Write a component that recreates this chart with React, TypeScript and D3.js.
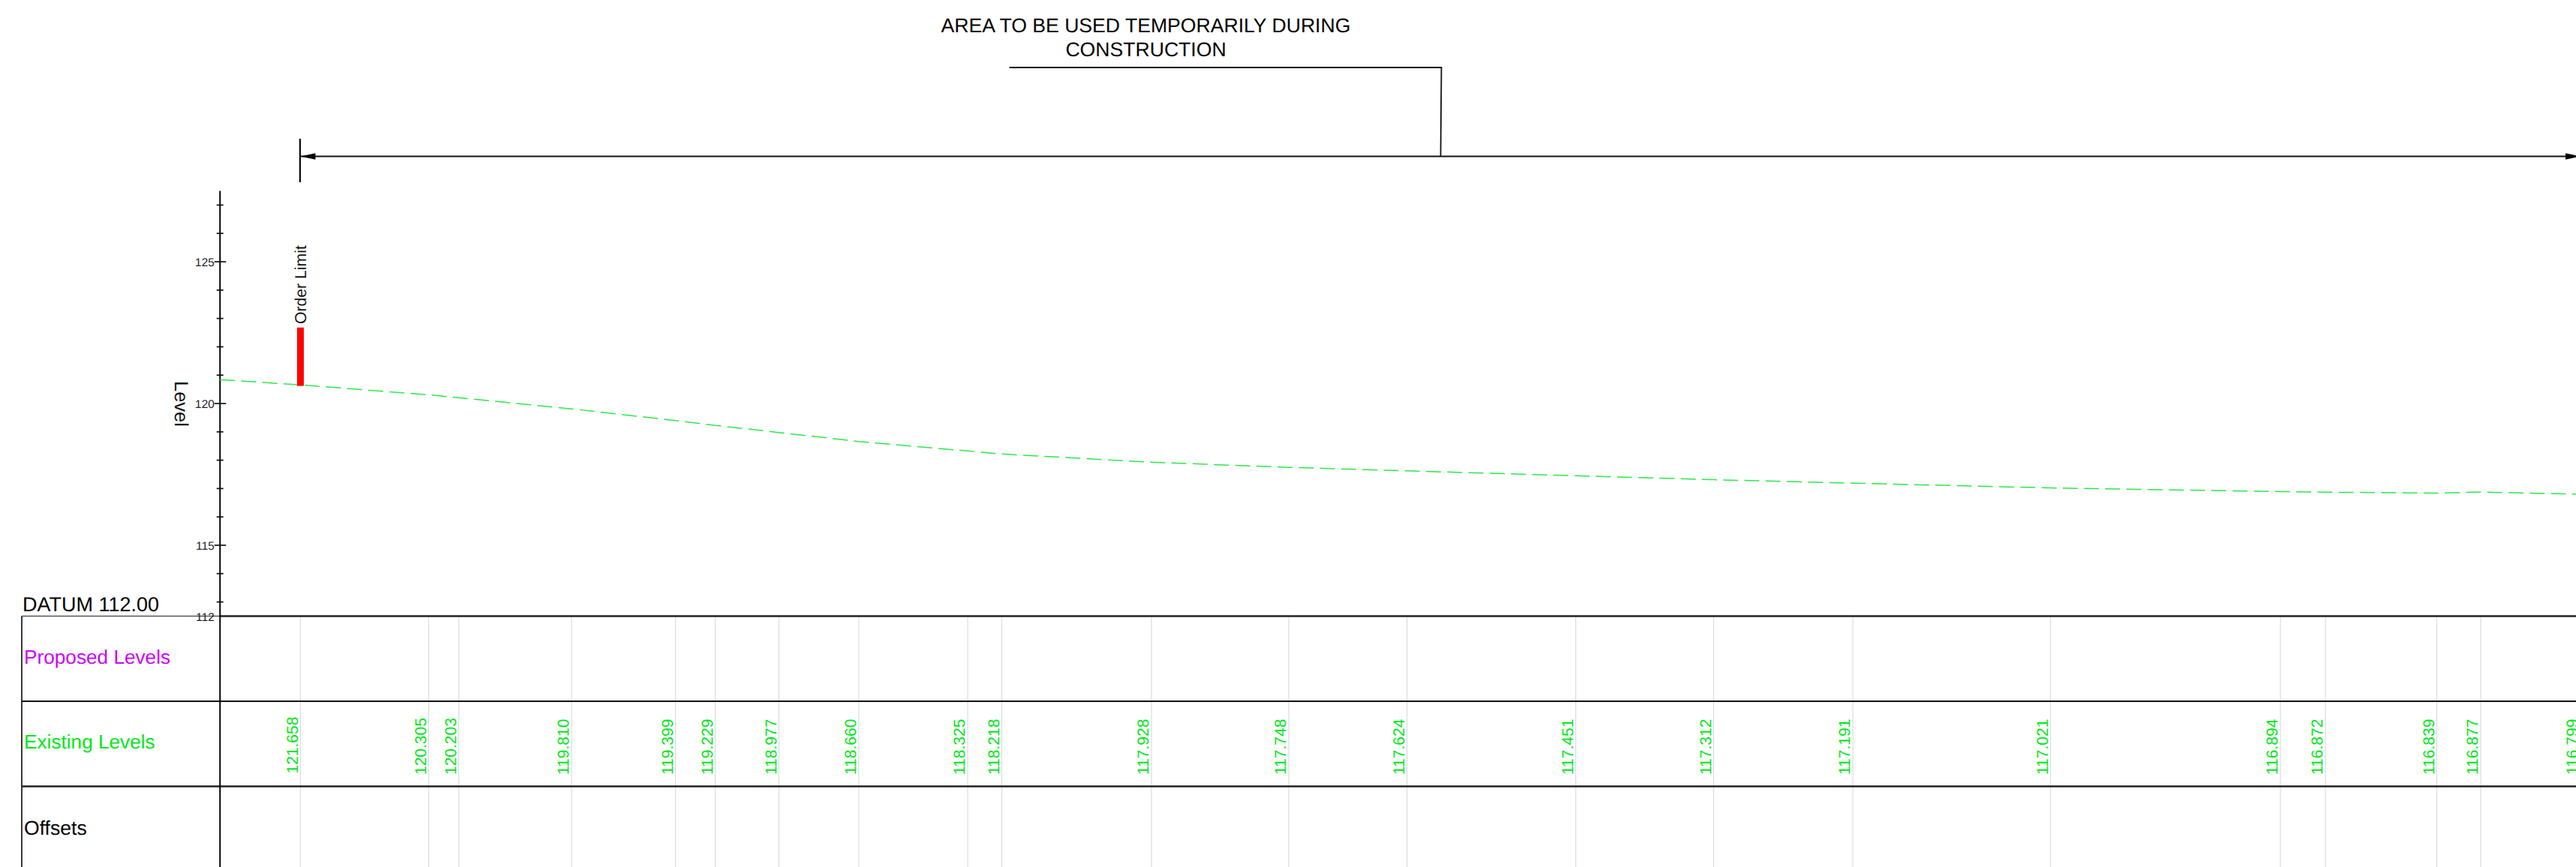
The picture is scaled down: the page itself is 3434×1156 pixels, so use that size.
import React from "react";
import * as d3 from "d3";

const stations = [0, 17.09, 21.11, 36.15, 50.0, 55.29, 63.78, 74.43, 88.95, 93.5, 113.45, 131.75, 147.51, 170.01, 188.39, 206.95, 233.3, 263.95, 269.95, 284.79, 290.65, 303.95];
const levelLabels = ["121.658", "120.305", "120.203", "119.810", "119.399", "119.229", "118.977", "118.660", "118.325", "118.218", "117.928", "117.748", "117.624", "117.451", "117.312", "117.191", "117.021", "116.894", "116.872", "116.839", "116.877", "116.799"];
const plottedLevels = [120.658, 120.305, 120.203, 119.81, 119.399, 119.229, 118.977, 118.66, 118.325, 118.218, 117.928, 117.748, 117.624, 117.451, 117.312, 117.191, 117.021, 116.894, 116.872, 116.839, 116.877, 116.799];
const profileStart = { station: -10.72, level: 120.84 };
const majorTicks = [115, 120, 125];
const minorTicks = [113, 114, 116, 117, 118, 119, 121, 122, 123, 124, 126, 127];
const axisTop = 127.5;
const datumPlotted = 112.5;
const datumLabel = "112";
const orderLimit = { station: 0, top: 122.68, bottom: 120.62 };
const rowLabels = ["Proposed Levels", "Existing Levels", "Offsets"];
const noteLines = ["AREA TO BE USED TEMPORARILY DURING", "CONSTRUCTION"];

const W = 3434;
const H = 1156;
const FONT = '"Liberation Sans", Arial, sans-serif';
const GREEN = "#00e81a";
const MAGENTA = "#cc00ff";

export default function App() {
  const x = d3.scaleLinear().domain([0, 100]).range([400.5, 1400.5]);
  const y = d3.scaleLinear().domain([115, 125]).range([727, 349]);
  const axisX = x(profileStart.station);
  const rowY = [y(datumPlotted), 935, 1048.5];
  const tableLeft = 29;
  const dimY = 208.5;
  const dimEnd = x(stations[stations.length - 1]);

  const profile = d3
    .line<[number, number]>()
    .x((d) => x(d[0]))
    .y((d) => y(d[1]))([
    [profileStart.station, profileStart.level],
    ...stations.map((s, i): [number, number] => [s, plottedLevels[i]]),
  ]);

  return (
    <svg
      width={W}
      height={H}
      viewBox={`0 0 ${W} ${H}`}
      style={{ position: "absolute", left: 0, top: 0, background: "#fff", display: "block" }}
      fontFamily={FONT}
      textRendering="geometricPrecision"
    >
      {/* grid lines */}
      {stations.map((s) => (
        <line key={s} x1={x(s)} x2={x(s)} y1={rowY[0]} y2={H} stroke="#dcdcdc" strokeWidth={1.2} />
      ))}

      {/* table */}
      <line x1={tableLeft} x2={axisX} y1={rowY[0]} y2={rowY[0]} stroke="#555" strokeWidth={1.5} />
      <line x1={axisX} x2={W} y1={rowY[0]} y2={rowY[0]} stroke="#222" strokeWidth={2.6} />
      <line x1={tableLeft} x2={W} y1={rowY[1]} y2={rowY[1]} stroke="#111" strokeWidth={2} />
      <line x1={tableLeft} x2={W} y1={rowY[2]} y2={rowY[2]} stroke="#222" strokeWidth={2.4} />
      <line x1={tableLeft} x2={tableLeft} y1={rowY[0]} y2={H} stroke="#222" strokeWidth={1.8} />

      {/* axis */}
      <line x1={axisX} x2={axisX} y1={y(axisTop)} y2={H} stroke="#000" strokeWidth={2} />
      {minorTicks.map((t) => (
        <line key={t} x1={axisX - 4.5} x2={axisX + 4.5} y1={y(t)} y2={y(t)} stroke="#111" strokeWidth={1.7} />
      ))}
      {majorTicks.map((t) => (
        <g key={t}>
          <line x1={axisX - 7.5} x2={axisX + 8} y1={y(t)} y2={y(t)} stroke="#111" strokeWidth={1.7} />
          <text x={axisX - 7.5} y={y(t) + 6} textAnchor="end" fontSize={15.4} fill="#222">
            {t}
          </text>
        </g>
      ))}
      <text x={axisX - 7.5} y={y(datumPlotted) + 6} textAnchor="end" fontSize={15.4} fill="#222">
        {datumLabel}
      </text>
      <text transform={`translate(233,${(y(120) - 30).toFixed(1)}) rotate(90)`} fontSize={25.5} fill="#111">
        Level
      </text>

      {/* table labels */}
      <text x={30} y={815} fontSize={27} fill="#000">
        DATUM 112.00
      </text>
      <text x={32} y={885} fontSize={26.2} fill={MAGENTA}>
        {rowLabels[0]}
      </text>
      <text x={32} y={998} fontSize={26.2} fill={GREEN}>
        {rowLabels[1]}
      </text>
      <text x={32} y={1113} fontSize={26.6} fill="#000">
        {rowLabels[2]}
      </text>

      {/* profile */}
      <path d={profile ?? ""} fill="none" stroke="#2ae84a" strokeWidth={1.5} strokeDasharray="20 8.3" />

      {/* order limit */}
      <line
        x1={x(orderLimit.station)}
        x2={x(orderLimit.station)}
        y1={y(orderLimit.top)}
        y2={y(orderLimit.bottom)}
        stroke="#ff0000"
        strokeWidth={9}
      />
      <text transform={`translate(407.5,432) rotate(-90)`} fontSize={21.2} fill="#111">
        Order Limit
      </text>

      {/* existing level labels */}
      {stations.map((s, i) => (
        <text
          key={s}
          transform={`translate(${x(s) - 3.6},${i === 0 ? 1031.5 : 1033}) rotate(-90)`}
          fontSize={21}
          fill={GREEN}
        >
          {levelLabels[i]}
        </text>
      ))}

      {/* dimension and leader */}
      <line x1={x(0) - 0.5} x2={x(0) - 0.5} y1={185} y2={243} stroke="#000" strokeWidth={2} />
      <line x1={x(0)} x2={dimEnd} y1={dimY} y2={dimY} stroke="#111" strokeWidth={1.8} />
      <path d={`M${x(0)},${dimY}L${x(0) + 20},${dimY - 4.2}L${x(0) + 20},${dimY + 4.2}Z`} fill="#000" />
      <path d={`M${dimEnd},${dimY}L${dimEnd - 20},${dimY - 4.2}L${dimEnd - 20},${dimY + 4.2}Z`} fill="#000" />
      <path d={`M1345.5,90H1921.5L1920.5,${dimY}`} fill="none" stroke="#111" strokeWidth={1.8} />
      {noteLines.map((t, i) => (
        <text key={t} x={1527.5} y={42.7 + i * 32} textAnchor="middle" fontSize={26.6} fill="#000">
          {t}
        </text>
      ))}
    </svg>
  );
}
